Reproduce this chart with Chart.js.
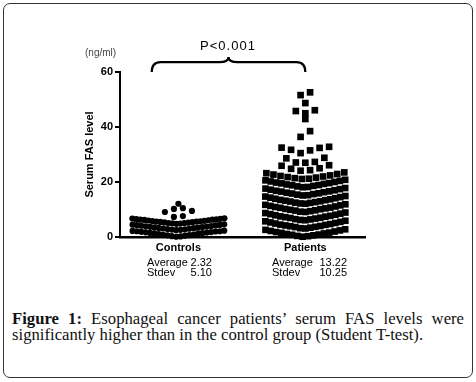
<!DOCTYPE html>
<html>
<head>
<meta charset="utf-8">
<script src="https://cdn.jsdelivr.net/npm/chart.js@4.4.1/dist/chart.umd.min.js"></script>
<style>
  html, body { margin: 0; padding: 0; background: #fff; }
  body { width: 476px; height: 382px; position: relative; overflow: hidden; font-family: "Liberation Sans", Arial, sans-serif; }
  #frame { position: absolute; left: 3px; top: 3px; width: 470px; height: 375px; box-sizing: border-box; border: 1.5px solid #333; border-radius: 7px; }
  #plot { position: absolute; left: 0; top: 0; width: 476px; height: 290px; }
  .note { position: absolute; white-space: pre; color: #000; }
  #unit { left: 85px; top: 47px; font-size: 10px; color: #444; }
  #pval { left: 178px; top: 38px; width: 100px; text-align: center; font-size: 13px; letter-spacing: 1px; }
  .stats { position: absolute; top: 257px; font-size: 11px; line-height: 10px; }
  .stats span { display: inline-block; }
  .stats .lab { width: 43px; }
  .stats .num { text-align: right; }
  #cap { position: absolute; left: 12px; top: 311px; width: 452px; font-family: "Liberation Serif", "Times New Roman", serif; font-size: 16.7px; line-height: 16px; color: #111; }
  #cap .l1 { text-align: justify; text-align-last: justify; }
</style>
</head>
<body>
<div id="frame"></div>
<div id="plot"><canvas id="chartSerumFas"></canvas></div>
<div class="note" id="unit">(ng/ml)</div>
<div class="note" id="pval">P&lt;0.001</div>
<div class="stats" id="stats0" style="left:147px"></div>
<div class="stats" id="stats1" style="left:272px"></div>
<div id="cap">
  <div class="l1"><b>Figure 1:</b> Esophageal cancer patients’ serum FAS levels were</div>
  <div>significantly higher than in the control group (Student T-test).</div>
</div>
<script>
const groups = ['Controls', 'Patients'];
const yTicks = [0, 20, 40, 60];
const averages = ['2.32', '13.22'];
const stdevs = ['5.10', '10.25'];

// serum FAS level, ng/ml
const controls = [
  0.1, 0.2, 0.3, 0.5, 0.6, 0.7, 0.8, 0.9, 1.1, 1.2, 1.3, 1.4, 1.5, 1.6, 1.7, 1.8, 1.9, 2.0, 2.1, 2.1, 2.2, 2.3,
  2.5, 2.6, 2.7, 2.8, 2.9, 3.0, 3.1, 3.2, 3.3, 3.4, 3.5, 3.6, 3.7, 3.8, 3.9, 4.0, 4.1, 4.2, 4.3, 4.4, 4.5, 4.6,
  4.8, 4.9, 5.0, 5.1, 5.1, 5.2, 5.3, 5.4, 5.5, 5.6, 5.6, 5.7, 5.8, 5.9, 6.0, 6.1, 6.2, 6.3, 6.3, 6.4, 6.5, 6.6, 6.7, 6.8,
  7.3, 7.6, 9.1, 9.5, 10.2, 10.5, 12.1
];
const patients = [
  0.1, 0.3, 0.4, 0.6, 0.8, 0.9, 1.1, 1.3, 1.5, 1.6, 1.8, 2.0, 2.2, 2.4, 2.6, 2.8,
  3.1, 3.2, 3.4, 3.6, 3.7, 3.9, 4.0, 4.2, 4.4, 4.5, 4.7, 4.9, 5.1, 5.3, 5.5, 5.7, 5.9,
  6.1, 6.2, 6.4, 6.5, 6.7, 6.9, 7.0, 7.2, 7.4, 7.5, 7.7, 7.9, 8.1, 8.3, 8.5, 8.7, 8.9,
  9.1, 9.2, 9.4, 9.6, 9.7, 9.9, 10.1, 10.2, 10.4, 10.6, 10.7, 10.9, 11.1, 11.3, 11.5, 11.7, 11.9,
  12.1, 12.2, 12.4, 12.5, 12.7, 12.9, 13.0, 13.2, 13.4, 13.5, 13.7, 13.9, 14.1, 14.3, 14.5, 14.7, 14.9,
  15.1, 15.2, 15.4, 15.6, 15.8, 15.9, 16.1, 16.3, 16.5, 16.6, 16.8, 17.0, 17.2, 17.4, 17.6, 17.8,
  18.1, 18.2, 18.4, 18.6, 18.8, 18.9, 19.1, 19.3, 19.5, 19.6, 19.8, 20.0, 20.2, 20.4, 20.6, 20.8,
  21.1, 21.2, 21.4, 21.6, 21.8, 22.0, 22.2, 22.4, 22.7, 22.9, 23.2, 23.5,
  24.1, 24.3, 24.8, 25.0, 25.9, 26.1,
  27.0, 27.1, 27.3, 28.6, 28.8,
  30.5, 31.5, 31.7, 32.4, 32.5, 32.8,
  36.4, 38.5, 42.9, 45.0, 45.8, 46.1, 48.7, 51.6, 52.6
];

const X_MIN = 0.54, X_MAX = 2.47, PLOT_W = 245;
const pxPerX = PLOT_W / (X_MAX - X_MIN);

/** Prism-like column scatter: values binned into rows, lowest in the middle */
function swarm(values, center, binSize, base, cap, maxW) {
  const rows = {};
  values.forEach(v => {
    const b = Math.floor(v / binSize);
    (rows[b] = rows[b] || []).push(v);
  });
  const pts = [];
  Object.values(rows).forEach(row => {
    row.sort((a, b) => a - b);
    const n = row.length;
    const s = Math.min(cap, Math.max(base, maxW / n));
    const slots = [];
    for (let j = 0; j < n; j++) slots.push((j - (n - 1) / 2) * s);
    slots.sort((a, b) => Math.abs(a) - Math.abs(b) || a - b);
    row.forEach((v, i) => pts.push({ x: center + slots[i] / pxPerX, y: v }));
  });
  return pts;
}

// stats lines under the categories
[0, 1].forEach(i => {
  const w = i ? 32 : 22;
  document.getElementById('stats' + i).innerHTML =
    '<div><span class="lab">Average</span><span class="num" style="width:' + w + 'px">' + averages[i] + '</span></div>' +
    '<div><span class="lab">Stdev</span><span class="num" style="width:' + w + 'px">' + stdevs[i] + '</span></div>';
});

/** curly brace over both columns */
const bracePlugin = {
  id: 'brace',
  afterDraw(chart) {
    const { ctx, scales: { x, y } } = chart;
    const xl = x.getPixelForValue(0.79), xr = x.getPixelForValue(2.0);
    const xm = (xl + xr) / 2;
    const yEnd = y.getPixelForValue(60), yFlat = y.getPixelForValue(63.6), yPeak = y.getPixelForValue(65.5);
    const r = 9;
    ctx.save();
    ctx.beginPath();
    ctx.moveTo(xl, yEnd);
    ctx.quadraticCurveTo(xl, yFlat, xl + r, yFlat);
    ctx.lineTo(xm - r, yFlat);
    ctx.quadraticCurveTo(xm, yFlat, xm, yPeak);
    ctx.quadraticCurveTo(xm, yFlat, xm + r, yFlat);
    ctx.lineTo(xr - r, yFlat);
    ctx.quadraticCurveTo(xr, yFlat, xr, yEnd);
    ctx.lineWidth = 2.2;
    ctx.strokeStyle = '#000';
    ctx.stroke();
    ctx.restore();
  }
};

const _chartSerumFas = document.getElementById('chartSerumFas');

new Chart(_chartSerumFas, {
  type: 'scatter',
  data: {
    datasets: [
      {
        label: groups[0],
        data: swarm(controls, 1, 2.4, 4, 9, 96),
        pointStyle: 'circle',
        pointRadius: 3.1,
        pointHoverRadius: 3.1,
        backgroundColor: '#000',
        borderWidth: 0,
        clip: false
      },
      {
        label: groups[1],
        data: swarm(patients, 2, 3, 5, 9.5, 85),
        pointStyle: 'rect',
        pointRadius: 4.7,
        pointHoverRadius: 4.7,
        backgroundColor: '#000',
        borderWidth: 0,
        clip: false
      }
    ]
  },
  options: {
    responsive: true,
    maintainAspectRatio: false,
    animation: false,
    events: [],
    layout: { padding: { left: 82, right: 111, top: 72, bottom: 33 } },
    plugins: { legend: { display: false }, tooltip: { enabled: false } },
    scales: {
      x: {
        type: 'linear',
        min: X_MIN,
        max: X_MAX,
        afterBuildTicks(scale) { scale.ticks = [{ value: 1 }, { value: 2 }]; },
        afterFit(scale) { scale.height = 20; },
        ticks: {
          padding: 4,
          color: '#000',
          font: { family: '"Liberation Sans", Arial, sans-serif', size: 11, weight: 'bold' },
          callback: v => groups[Math.round(v) - 1]
        },
        grid: { display: false, drawTicks: false },
        border: { display: true, color: '#000', width: 2.5 }
      },
      y: {
        min: 0,
        max: 60,
        afterBuildTicks(scale) { scale.ticks = yTicks.map(v => ({ value: v })); },
        afterFit(scale) { scale.width = 38; },
        ticks: {
          padding: 2,
          color: '#000',
          font: { family: '"Liberation Sans", Arial, sans-serif', size: 11, weight: 'bold' }
        },
        grid: { drawOnChartArea: false, drawTicks: true, tickLength: 5, lineWidth: 2, color: '#000' },
        border: { display: true, color: '#000', width: 2 },
        title: {
          display: true,
          text: 'Serum FAS level',
          color: '#000',
          padding: { top: 1, bottom: 0 },
          font: { family: '"Liberation Sans", Arial, sans-serif', size: 11, weight: 'bold' }
        }
      }
    }
  },
  plugins: [bracePlugin]
});
</script>
</body>
</html>
